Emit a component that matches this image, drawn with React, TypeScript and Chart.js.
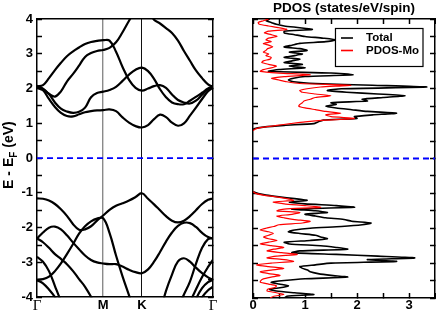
import React, { useEffect, useRef } from 'react';
import { Chart, registerables } from 'chart.js';

Chart.register(...registerables);

const N = null;

// ---------- Band structure data ----------
// k-path positions (fraction of total path length Γ-M-K-Γ)
const kPath = [0, 0.034, 0.068, 0.102, 0.136, 0.17, 0.205, 0.239, 0.273, 0.307, 0.341, 0.376, 0.412, 0.449, 0.486, 0.523, 0.56, 0.596, 0.631, 0.665, 0.699, 0.733, 0.767, 0.801, 0.835, 0.869, 0.903, 0.938, 0.972, 1];
const kTickPos = [0, 0.376, 0.596, 1];
const kTickLabels = ['Γ', 'M', 'K', 'Γ'];

// conduction bands (eV)
const bandC1 = [2.06, 2.1, 2.3, 2.53, 2.74, 2.93, 3.07, 3.18, 3.28, 3.34, 3.37, 3.39, 3.38, 3.06, 2.62, 2.25, 2.02, 1.94, 2.0, 2.07, 2.1, 2.02, 1.83, 1.67, 1.6, 1.57, 1.65, 1.82, 1.98, 2.06];
const bandC2 = [2.05, 1.98, 1.85, 1.77, 1.92, 2.2, 2.42, 2.66, 2.91, 3.02, 3.08, 3.11, 3.17, 3.33, 3.62, 3.95, 4.25, 4.4, 4.25, 3.98, 3.87, 3.74, 3.6, 3.38, 3.08, 2.8, 2.52, 2.3, 2.12, 2.05];
const bandC3 = [2.02, 1.95, 1.7, 1.47, 1.3, 1.21, 1.2, 1.26, 1.32, 1.35, 1.37, 1.38, 1.4, 1.35, 1.17, 1.02, 0.92, 0.88, 0.95, 1.12, 1.25, 1.18, 1.02, 0.93, 1.0, 1.22, 1.45, 1.7, 1.92, 2.03];
const bandC4 = [2.08, 2.0, 1.84, 1.6, 1.42, 1.34, 1.3, 1.33, 1.45, 1.75, 1.87, 1.91, 1.96, 2.05, 2.22, 2.4, 2.54, 2.6, 2.5, 2.28, 1.98, 1.75, 1.6, 1.55, 1.55, 1.65, 1.76, 1.88, 2.0, 2.07];
// valence bands (eV)
const bandV1 = [-1.16, -1.17, -1.22, -1.32, -1.47, -1.66, -1.9, -2.06, -2.05, -1.96, -1.8, -1.65, -1.49, -1.37, -1.3, -1.22, -1.12, -1.01, -1.17, -1.33, -1.5, -1.67, -1.8, -1.85, -1.8, -1.67, -1.5, -1.32, -1.2, -1.16];
const bandV2 = [-3.5, -3.48, -3.41, -3.25, -3.03, -2.76, -2.47, -2.17, -1.96, -1.82, -1.74, -1.73, -2.15, -2.8, -3.4, -3.95, -4.5, N, N, N, N, N, N, N, N, N, N, N, N, N];
const bandV3 = [-2.31, -2.14, -2.0, -1.97, -2.05, -2.22, -2.43, -2.62, -2.8, -2.93, -3.0, -3.03, -3.05, -3.05, -3.12, -3.21, -3.28, -3.31, -3.2, -2.98, -2.7, -2.4, -2.14, -1.95, -1.86, -1.87, -1.98, -2.15, -2.27, -2.31];
const bandV4 = [-2.31, -2.42, -2.58, -2.76, -2.9, -3.05, -3.25, -3.48, -3.7, -3.99, -4.35, N, N, N, N, N, N, N, N, N, N, N, N, N, N, N, N, N, N, N];
const bandV5 = [-2.84, -2.98, -3.25, -3.68, -4.12, -4.6, N, N, N, N, N, N, N, N, N, N, N, N, N, N, N, N, N, N, N, N, N, N, N, N];
const bandV6 = [-3.51, -3.6, -3.78, -4.0, -4.3, N, N, N, N, N, N, N, N, N, N, N, N, N, N, N, N, N, N, N, N, N, N, N, N, N];
const bandV7 = [N, N, N, N, N, N, N, N, N, N, N, N, N, N, N, N, N, N, N, -5.1, -4.45, -3.82, -3.35, -2.97, -2.88, -2.98, -3.15, -3.31, -3.43, -3.5];
const bandV8 = [N, N, N, N, N, N, N, N, N, N, N, N, N, N, N, N, N, N, N, N, N, N, -4.8, -4.3, -3.92, -3.55, -3.04, -2.58, -2.33, -2.31];
const bandV9 = [N, N, N, N, N, N, N, N, N, N, N, N, N, N, N, N, N, N, N, N, N, N, N, N, -4.6, -4.15, -3.78, -3.42, -3.13, -2.92];
const bandV10 = [N, N, N, N, N, N, N, N, N, N, N, N, N, N, N, N, N, N, N, N, N, N, N, N, N, -4.45, -4.05, -3.74, -3.57, -3.5];
const bandV11 = [N, N, N, N, N, N, N, N, N, N, N, N, N, N, N, N, N, N, N, N, N, N, N, N, N, N, -4.3, -4.0, -3.8, -3.7];
const bands = [bandC1, bandC2, bandC3, bandC4, bandV1, bandV2, bandV3, bandV4, bandV5, bandV6, bandV7, bandV8, bandV9, bandV10, bandV11];

const eMin = -4;
const eMax = 4;
const fermiLevel = 0;

// ---------- PDOS data ----------
const ePdosCB = [4, 3.95, 3.9, 3.85, 3.8, 3.75, 3.7, 3.65, 3.6, 3.55, 3.5, 3.45, 3.4, 3.35, 3.3, 3.25, 3.2, 3.15, 3.1, 3.05, 3, 2.95, 2.9, 2.85, 2.8, 2.75, 2.7, 2.65, 2.6, 2.55, 2.5, 2.45, 2.4, 2.35, 2.3, 2.25, 2.2, 2.15, 2.1, 2.05, 2, 1.95, 1.9, 1.85, 1.8, 1.75, 1.7, 1.65, 1.6, 1.55, 1.5, 1.45, 1.4, 1.35, 1.3, 1.25, 1.2, 1.15, 1.1, 1.05, 1, 0.95, 0.9, 0.85, 0.8];
const totalCB = [0.32, 0.25, 0.35, 0.45, 0.6, 0.9, 1.14, 0.6, 0.6, 0.8, 1.0, 1.35, 1.6, 1.4, 0.9, 0.75, 0.6, 0.9, 1.04, 0.7, 0.95, 0.8, 0.6, 0.9, 0.75, 0.6, 0.95, 0.7, 1.0, 0.5, 0.3, 1.5, 1.92, 1.0, 0.78, 0.68, 0.78, 1.2, 2.3, 3.34, 1.7, 1.43, 1.8, 2.4, 2.92, 2.5, 2.1, 2.2, 1.5, 1.6, 1.4, 1.6, 1.9, 2.2, 2.76, 2.3, 1.95, 2.0, 1.35, 1.25, 1.17, 0.6, 0.2, 0.02, 0];
const moCB = [0.3, 0.2, 0.1, 0.12, 0.3, 0.5, 0.65, 0.3, 0.22, 0.35, 0.46, 0.3, 0.25, 0.35, 0.2, 0.3, 0.38, 0.28, 0.25, 0.2, 0.3, 0.25, 0.35, 0.33, 0.2, 0.17, 0.3, 0.45, 0.35, 0.2, 0.14, 0.5, 1.1, 0.6, 0.36, 0.5, 0.65, 0.9, 1.88, 1.3, 1.04, 0.9, 0.95, 1.2, 1.5, 1.2, 1.1, 0.98, 0.95, 0.9, 0.88, 1.0, 1.2, 1.4, 1.69, 1.4, 1.5, 1.95, 1.4, 1.0, 0.72, 0.46, 0.2, 0.05, 0];
const ePdosVB = [-0.95, -1, -1.05, -1.1, -1.15, -1.2, -1.25, -1.3, -1.35, -1.4, -1.45, -1.5, -1.55, -1.6, -1.65, -1.7, -1.75, -1.8, -1.85, -1.9, -1.95, -2, -2.05, -2.1, -2.15, -2.2, -2.25, -2.3, -2.35, -2.4, -2.45, -2.5, -2.55, -2.6, -2.65, -2.7, -2.75, -2.8, -2.85, -2.9, -2.95, -3, -3.05, -3.1, -3.15, -3.2, -3.25, -3.3, -3.35, -3.4, -3.45, -3.5, -3.55, -3.6, -3.65, -3.7, -3.75, -3.8, -3.85, -3.9, -3.95, -4];
const totalVB = [0, 0.08, 0.25, 0.5, 0.8, 1.04, 0.7, 1.0, 1.6, 1.95, 0.75, 1.2, 1.43, 1.0, 1.2, 1.4, 1.75, 1.9, 2.27, 2.1, 1.7, 1.1, 0.8, 0.68, 0.9, 1.2, 1.3, 1.43, 1.1, 0.6, 0.7, 1.3, 1.6, 1.82, 0.9, 0.75, 1.6, 2.4, 3.11, 2.2, 2.76, 1.5, 1.2, 0.9, 0.95, 1.05, 1.1, 1.25, 1.5, 1.82, 1.0, 0.6, 0.35, 0.5, 0.68, 0.55, 0.32, 0.45, 0.8, 1.17, 0.65, 0.6];
const moVB = [0, 0.05, 0.2, 0.45, 0.65, 0.78, 0.39, 0.6, 1.0, 1.3, 0.6, 0.46, 0.9, 0.75, 0.46, 0.6, 0.8, 1.1, 0.95, 0.5, 0.4, 0.25, 0.14, 0.3, 0.39, 0.3, 0.2, 0.3, 0.46, 0.3, 0.14, 0.35, 0.59, 0.4, 0.27, 0.55, 0.85, 0.45, 0.27, 0.6, 0.78, 0.35, 0.07, 0.3, 0.59, 0.35, 0.14, 0.3, 0.52, 0.35, 0.2, 0.15, 0.14, 0.3, 0.45, 0.42, 0.28, 0.27, 0.45, 0.59, 0.4, 0.33];
const dosMin = 0;
const dosMax = 3.5;

const seriesLabels = ['Total', 'PDOS-Mo'];
const pdosTitle = 'PDOS (states/eV/spin)';
const yTitleMain = 'E - E';
const yTitleSub = 'F';
const yTitleTail = ' (eV)';

// ---------- styling helpers ----------
const SANS = "'Liberation Sans', Arial, Helvetica, sans-serif";
const SERIF = "'Liberation Serif', 'Times New Roman', serif";
const isInt = (v: number) => Math.abs(v - Math.round(v)) < 1e-6;
const frame = { display: true, color: '#000', width: 1.5 };
const tickFont = { family: SANS, size: 13, weight: 'bold' };

function toPts(xs: any[], ys: any[]) {
  return xs.map((x, i) => ({ x, y: ys[i] })).filter((p) => p.x !== null && p.y !== null);
}

function insideAxis(extra: any) {
  return {
    type: 'linear',
    grid: { display: true, drawOnChartArea: false, drawTicks: true, tickLength: -5, tickWidth: 1.5, tickColor: '#000' },
    border: frame,
    ...extra,
  };
}

const rotatedTitlePlugin = {
  id: 'rotatedTitle',
  afterDraw(chart: any) {
    const { ctx, chartArea } = chart;
    const cy = (chartArea.top + chartArea.bottom) / 2 - 3;
    ctx.save();
    ctx.translate(13, cy);
    ctx.rotate(-Math.PI / 2);
    ctx.fillStyle = '#000';
    ctx.textBaseline = 'alphabetic';
    const main = `bold 14px ${SANS}`;
    const sub = `bold 10px ${SANS}`;
    const parts = [
      { t: yTitleMain, f: main, dy: 0 },
      { t: yTitleSub, f: sub, dy: 3.5 },
      { t: yTitleTail, f: main, dy: 0 },
    ];
    let total = 0;
    parts.forEach((p) => { ctx.font = p.f; total += ctx.measureText(p.t).width; });
    let x = -total / 2;
    parts.forEach((p) => {
      ctx.font = p.f;
      ctx.fillText(p.t, x, p.dy);
      x += ctx.measureText(p.t).width;
    });
    ctx.restore();
  },
};

const legendBoxPlugin = {
  id: 'legendBox',
  afterDraw(chart: any) {
    const { ctx, chartArea } = chart;
    const entries = chart.data.datasets.filter((d: any) => d.inLegend);
    ctx.save();
    ctx.font = `bold 11.5px ${SANS}`;
    const textW = Math.max(...entries.map((e: any) => ctx.measureText(e.label).width));
    const padL = 5.5, lineLen = 12, gap = 13, padR = 4;
    const w = padL + lineLen + gap + textW + padR;
    const h = 38;
    const x0 = chartArea.right - 12 - w;
    const y0 = chartArea.top + 9.5;
    ctx.fillStyle = '#fff';
    ctx.fillRect(x0, y0, w, h);
    ctx.lineWidth = 1.2;
    ctx.strokeStyle = '#000';
    ctx.strokeRect(x0, y0, w, h);
    entries.forEach((e: any, i: number) => {
      const cy = y0 + 9.5 + i * 12.5;
      ctx.beginPath();
      ctx.moveTo(x0 + padL, cy);
      ctx.lineTo(x0 + padL + lineLen, cy);
      ctx.strokeStyle = e.borderColor;
      ctx.lineWidth = 1.6;
      ctx.stroke();
      ctx.fillStyle = '#000';
      ctx.textBaseline = 'middle';
      ctx.textAlign = 'left';
      ctx.fillText(e.label, x0 + padL + lineLen + gap, cy);
    });
    ctx.restore();
  },
};

const baseOptions = {
  responsive: false,
  animation: false,
  devicePixelRatio: 1,
  events: [],
  layout: { padding: 0 },
  elements: { point: { radius: 0 }, line: { capBezierPoints: false } },
};

function leftConfig(): any {
  return {
    type: 'line',
    data: {
      datasets: [
        {
          label: 'EF',
          data: [{ x: kPath[0], y: fermiLevel }, { x: kPath[kPath.length - 1], y: fermiLevel }],
          borderColor: '#0000ff', borderWidth: 1.8, borderDash: [6, 4], pointRadius: 0, tension: 0, order: 0,
        },
        ...bands.map((b, i) => ({
          label: `band ${i + 1}`,
          data: toPts(kPath, b),
          borderColor: '#000', borderWidth: 2.2, pointRadius: 0, tension: 0.4, order: 1,
        })),
      ],
    },
    options: {
      ...baseOptions,
      plugins: { legend: { display: false }, tooltip: { enabled: false }, title: { display: false } },
      scales: {
        x: {
          type: 'linear', position: 'bottom', min: kPath[0], max: kPath[kPath.length - 1],
          afterBuildTicks: (s: any) => { s.ticks = kTickPos.map((value) => ({ value })); },
          afterFit: (s: any) => { s.height = 16; },
          ticks: {
            autoSkip: false, maxRotation: 0, padding: 0, color: '#000',
            callback: (v: number) => { const i = kTickPos.indexOf(v); return i >= 0 ? kTickLabels[i] : ''; },
            font: (c: any) => {
              const i = c.tick ? kTickPos.indexOf(c.tick.value) : -1;
              return i >= 0 && kTickLabels[i] === 'Γ' ? { family: SERIF, size: 15, weight: 'normal' } : tickFont;
            },
          },
          grid: {
            display: true, drawTicks: false, drawOnChartArea: true,
            color: (c: any) => {
              const v = c.tick ? c.tick.value : -1;
              if (v === kTickPos[1]) return '#8a8a8a';
              if (v === kTickPos[2]) return '#111';
              return 'rgba(0,0,0,0)';
            },
            lineWidth: (c: any) => (c.tick && c.tick.value === kTickPos[1] ? 1.4 : 1),
          },
          border: frame,
        },
        xTop: {
          type: 'linear', position: 'top', min: kPath[0], max: kPath[kPath.length - 1],
          afterFit: (s: any) => { s.height = 19; },
          ticks: { display: false },
          grid: { display: false },
          border: frame,
        },
        y: insideAxis({
          position: 'left', min: eMin, max: eMax,
          afterFit: (s: any) => { s.width = 37; },
          ticks: { stepSize: 0.5, autoSkip: false, padding: 9, color: '#000', font: tickFont, callback: (v: number) => (isInt(v) ? String(v) : '') },
        }),
        yRight: insideAxis({
          position: 'right', min: eMin, max: eMax,
          afterFit: (s: any) => { s.width = 23; },
          ticks: { stepSize: 0.5, autoSkip: false, callback: () => '' },
        }),
      },
    },
    plugins: [rotatedTitlePlugin],
  };
}

function rightConfig(): any {
  const line = (label: string, xs: number[], ys: number[], color: string, width: number, order: number, inLegend: boolean) => ({
    label, data: toPts(xs, ys), borderColor: color, borderWidth: width, pointRadius: 0, tension: 0.2, order, inLegend,
  });
  return {
    type: 'line',
    data: {
      datasets: [
        {
          label: 'EF',
          data: [{ x: dosMin, y: fermiLevel }, { x: dosMax, y: fermiLevel }],
          borderColor: '#0000ff', borderWidth: 1.8, borderDash: [6, 4], pointRadius: 0, tension: 0, order: 0,
        },
        line(seriesLabels[0], totalCB, ePdosCB, '#000', 1.6, 2, true),
        line(seriesLabels[1], moCB, ePdosCB, '#ff0000', 1.2, 1, true),
        line(seriesLabels[0], totalVB, ePdosVB, '#000', 1.6, 2, false),
        line(seriesLabels[1], moVB, ePdosVB, '#ff0000', 1.2, 1, false),
      ],
    },
    options: {
      ...baseOptions,
      plugins: {
        legend: { display: false },
        tooltip: { enabled: false },
        title: { display: true, text: pdosTitle, color: '#000', font: { family: SANS, size: 13.5, weight: 'bold' }, padding: { top: 0, bottom: 0 } },
      },
      scales: {
        x: insideAxis({
          position: 'bottom', min: dosMin, max: dosMax,
          afterFit: (s: any) => { s.height = 16; },
          ticks: { stepSize: 0.5, autoSkip: false, maxRotation: 0, padding: 5, color: '#000', font: tickFont, callback: (v: number) => (isInt(v) ? String(v) : '') },
        }),
        xTop: insideAxis({
          position: 'top', min: dosMin, max: dosMax,
          afterFit: (s: any) => { s.height = 2.8; },
          ticks: { stepSize: 0.5, autoSkip: false, callback: () => '' },
        }),
        y: insideAxis({
          position: 'left', min: eMin, max: eMax,
          afterFit: (s: any) => { s.width = 17; },
          ticks: { stepSize: 0.5, autoSkip: false, callback: () => '' },
        }),
        yRight: insideAxis({
          position: 'right', min: eMin, max: eMax,
          afterFit: (s: any) => { s.width = 17; },
          ticks: { stepSize: 0.5, autoSkip: false, callback: () => '' },
        }),
      },
    },
    plugins: [legendBoxPlugin],
  };
}

export default function App() {
  const leftRef = useRef<HTMLCanvasElement>(null);
  const rightRef = useRef<HTMLCanvasElement>(null);

  useEffect(() => {
    if (!leftRef.current || !rightRef.current) return;
    const left = new Chart(leftRef.current, leftConfig());
    const right = new Chart(rightRef.current, rightConfig());
    return () => {
      left.destroy();
      right.destroy();
    };
  }, []);

  return (
    <div style={{ position: 'fixed', left: 0, top: 0, width: 436, height: 314, overflow: 'hidden', background: '#fff' }}>
      <canvas ref={leftRef} width={236} height={314} style={{ position: 'absolute', left: 0, top: 0 }} />
      <canvas ref={rightRef} width={216} height={314} style={{ position: 'absolute', left: 236, top: 0 }} />
    </div>
  );
}
